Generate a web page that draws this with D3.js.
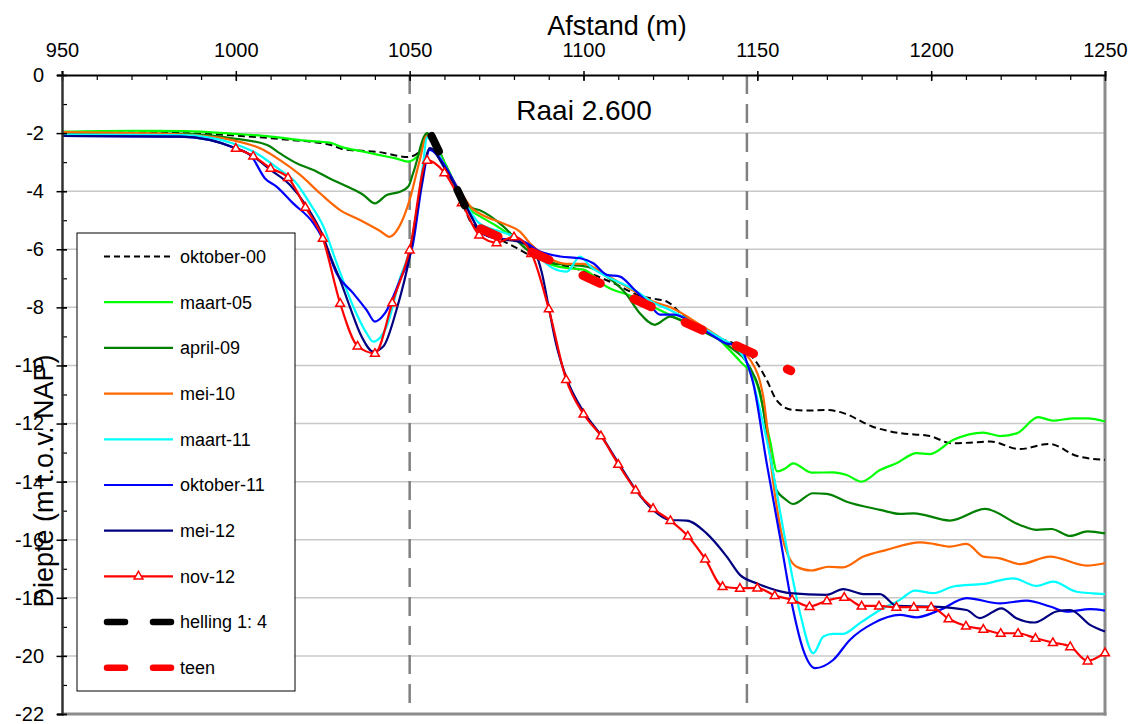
<!DOCTYPE html>
<html><head><meta charset="utf-8">
<script src="https://cdn.jsdelivr.net/npm/d3@7"></script>
<style>
body{margin:0;background:#fff;}
svg{display:block;font-family:Arial,"Liberation Sans",sans-serif;}
</style></head>
<body>
<svg id="chart" width="1137" height="724"></svg>
<script>
// ---------- data ----------
const xTicks = [950,1000,1050,1100,1150,1200,1250];
const xMinor = d3.range(950,1251,10);
const yTicks = [0,-2,-4,-6,-8,-10,-12,-14,-16,-18,-20,-22];
const yMinor = d3.range(0,-22.5,-1);
const gridValues = [-2,-4,-6,-8,-10,-12,-14,-16,-18,-20];
const refLines = [1050,1147];
const xTitle = "Afstand (m)";
const yTitle = "Diepte (m t.o.v. NAP)";
const chartTitle = "Raai 2.600";

const oktober00 = [[950,-2.0],[970,-1.98],[990,-2.02],[998,-2.07],[1014,-2.22],[1027,-2.4],[1031,-2.56],[1041,-2.65],[1049.5,-2.82],[1052,-2.72],[1055.5,-2.0],[1060,-3.0],[1065,-4.36],[1067.5,-5.05],[1070,-5.34],[1075,-5.6],[1080,-5.91],[1085,-6.23],[1091,-6.47],[1099,-6.71],[1108.5,-7.16],[1117,-7.63],[1121,-7.72],[1124,-7.8],[1128,-8.2],[1133.5,-8.66],[1139,-9.05],[1145,-9.35],[1149.8,-9.9],[1152.7,-10.5],[1155.5,-11.19],[1160,-11.53],[1165,-11.55],[1170,-11.53],[1175,-11.65],[1183,-12.1],[1191,-12.33],[1199.6,-12.43],[1206,-12.68],[1211,-12.66],[1217,-12.62],[1225.5,-12.88],[1234,-12.7],[1242,-13.12],[1250,-13.25]];
const maart05 = [[950,-1.95],[970,-1.92],[985,-1.93],[1000,-2.03],[1010,-2.12],[1020,-2.26],[1027,-2.33],[1031,-2.5],[1036,-2.62],[1041,-2.75],[1046,-2.87],[1049.5,-2.98],[1052.5,-2.75],[1055.3,-2.05],[1060,-3.0],[1065,-4.2],[1068,-4.7],[1070,-4.85],[1075,-5.2],[1080,-5.6],[1085,-6.0],[1090,-6.5],[1095,-6.64],[1100,-6.7],[1106.7,-7.29],[1114,-7.63],[1120,-7.98],[1128,-8.43],[1137,-8.89],[1142,-9.47],[1145,-9.85],[1149.8,-10.61],[1153.6,-12.56],[1155.7,-13.65],[1158,-13.55],[1160.3,-13.37],[1165.6,-13.69],[1171.8,-13.68],[1175.7,-13.77],[1180,-14.0],[1185.3,-13.6],[1190,-13.37],[1195.8,-13.02],[1199.6,-13.05],[1206.4,-12.56],[1215,-12.31],[1219.8,-12.43],[1224.6,-12.34],[1230.8,-11.78],[1235,-11.9],[1241,-11.82],[1245,-11.82],[1250,-11.93]];
const april09 = [[950,-2.0],[985,-2.03],[999,-2.18],[1009,-2.41],[1012.7,-2.7],[1017.5,-3.04],[1022.3,-3.27],[1027,-3.56],[1032,-3.84],[1036.7,-4.13],[1040,-4.42],[1043.4,-4.13],[1047.2,-4.02],[1049.6,-3.84],[1051,-3.38],[1055,-2.0],[1060,-3.1],[1065,-4.2],[1068,-4.58],[1070,-4.65],[1077,-5.22],[1082.7,-5.91],[1086.5,-6.25],[1091,-6.48],[1096,-6.54],[1101,-6.6],[1106.7,-6.94],[1112,-7.5],[1116.2,-8.2],[1120.5,-8.6],[1124.9,-8.32],[1127.7,-8.43],[1135.4,-8.89],[1142,-9.35],[1147.7,-10.04],[1150.6,-10.84],[1154.1,-13.37],[1155.5,-14.29],[1158,-14.6],[1160.3,-14.77],[1166,-14.4],[1170,-14.42],[1175.7,-14.69],[1185.3,-14.97],[1191,-15.11],[1195,-15.09],[1205.4,-15.34],[1215.5,-14.94],[1225.5,-15.49],[1230.3,-15.66],[1234.6,-15.63],[1240,-15.87],[1245,-15.71],[1250,-15.78]];
const mei10 = [[950,-1.97],[985,-2.05],[999,-2.24],[1008,-2.58],[1012.7,-2.93],[1018.5,-3.44],[1024.2,-4.07],[1030,-4.65],[1035.7,-4.99],[1041.5,-5.37],[1044.2,-5.57],[1047,-5.22],[1050,-4.3],[1052.9,-2.93],[1054.9,-2.1],[1060,-3.1],[1065,-4.1],[1068,-4.6],[1070,-4.76],[1077.9,-5.16],[1081.7,-5.39],[1084.6,-5.79],[1090,-6.3],[1095,-6.5],[1100,-6.5],[1106.7,-6.9],[1114,-7.4],[1120,-7.8],[1125,-8.0],[1133.5,-8.6],[1140,-9.1],[1145,-9.5],[1148,-9.81],[1151.7,-11.07],[1154.6,-14.06],[1157.4,-16.01],[1161.3,-16.93],[1165.6,-17.06],[1170.4,-16.93],[1174.7,-16.95],[1180.5,-16.58],[1187.2,-16.35],[1196.8,-16.09],[1201,-16.15],[1205.4,-16.24],[1210.2,-16.14],[1215,-16.58],[1219.8,-16.64],[1225.5,-16.84],[1234.2,-16.58],[1244.7,-16.89],[1250,-16.81]];
const maart11 = [[950,-2.05],[985,-2.07],[999,-2.35],[1006,-2.7],[1012.7,-3.27],[1017,-3.67],[1021.3,-4.42],[1025.2,-5.22],[1029,-6.48],[1033.8,-7.98],[1037.6,-8.89],[1039.5,-9.18],[1043.4,-8.66],[1047.2,-7.0],[1050,-6.02],[1052.5,-4.3],[1054,-2.93],[1054.9,-2.15],[1060,-3.1],[1065,-4.2],[1068,-4.8],[1070,-5.1],[1075,-5.35],[1080,-5.56],[1085,-6.0],[1091,-6.64],[1095.2,-6.77],[1099,-6.25],[1102,-6.6],[1106.7,-6.94],[1114,-7.35],[1120,-7.83],[1125,-8.1],[1133.5,-8.66],[1140,-9.1],[1144,-9.4],[1147,-9.92],[1152.7,-12.56],[1158.4,-16.24],[1162.3,-18.53],[1166.1,-19.91],[1169,-19.33],[1171.8,-19.24],[1174.7,-19.24],[1179.5,-18.87],[1185.3,-18.42],[1191,-18.07],[1195.3,-17.75],[1200.6,-17.84],[1206.4,-17.61],[1215,-17.52],[1223.6,-17.33],[1230.3,-17.59],[1235.1,-17.44],[1241.8,-17.79],[1250,-17.87]];
const oktober11 = [[950,-2.1],[984,-2.12],[1000,-2.52],[1004.5,-2.81],[1008.4,-3.56],[1011.7,-3.84],[1016.5,-4.42],[1022.3,-5.1],[1025.2,-5.68],[1029,-6.83],[1033.8,-7.52],[1037.6,-8.09],[1040,-8.49],[1042.9,-8.2],[1047.2,-7.06],[1051,-5.79],[1053.5,-3.8],[1055.8,-2.58],[1060,-3.1],[1063.5,-3.84],[1068.3,-4.99],[1070.2,-5.39],[1075,-5.62],[1081.7,-5.68],[1087.5,-6.08],[1093.3,-6.25],[1099,-6.31],[1102.8,-6.48],[1106.7,-6.88],[1110.5,-6.94],[1114.3,-7.35],[1119,-7.9],[1122,-8.25],[1126,-8.25],[1131.6,-8.55],[1138.3,-9.06],[1141,-9.24],[1145,-9.29],[1147,-9.9],[1148.8,-10.6],[1152.7,-13.37],[1156.5,-15.89],[1159.9,-18.19],[1163.2,-19.79],[1166.6,-20.42],[1171.8,-20.14],[1176.6,-19.45],[1183.3,-18.88],[1191,-18.59],[1195.8,-18.67],[1202.5,-18.42],[1210.2,-18.01],[1219.8,-18.19],[1227.4,-18.1],[1234.2,-18.3],[1239,-18.48],[1245.7,-18.39],[1250,-18.44]];
const mei12 = [[950,-2.1],[984,-2.12],[1000,-2.52],[1005,-2.8],[1010,-3.27],[1015.6,-3.79],[1020.4,-4.53],[1024.7,-5.45],[1027.6,-6.37],[1030,-7.06],[1032.8,-7.98],[1036.2,-9.01],[1039.5,-9.52],[1042.4,-9.35],[1046.2,-8.09],[1050,-6.25],[1053,-4.0],[1055.8,-2.52],[1060,-3.2],[1063.5,-3.9],[1068.3,-5.0],[1070.2,-5.39],[1075,-5.62],[1081.7,-5.75],[1086,-6.1],[1088,-6.8],[1090,-8.0],[1092,-9.2],[1095,-10.4],[1100,-11.59],[1105,-12.4],[1110,-13.35],[1115,-14.28],[1120,-14.97],[1124.9,-15.32],[1129.7,-15.34],[1135.4,-15.78],[1141.2,-16.58],[1145,-17.21],[1149.8,-17.5],[1153.6,-17.67],[1159.4,-17.84],[1169.9,-17.9],[1174.7,-17.7],[1180.5,-17.87],[1185.3,-17.87],[1190.1,-18.28],[1200.6,-18.3],[1210.2,-18.42],[1214,-18.7],[1220.2,-18.36],[1224.5,-18.7],[1229.8,-18.85],[1236,-18.47],[1240,-18.42],[1245.7,-18.93],[1250,-19.16]];
const nov12 = [[1000,-2.52],[1005,-2.79],[1010,-3.21],[1015,-3.53],[1020,-4.55],[1025,-5.62],[1030,-7.86],[1035,-9.33],[1040,-9.58],[1045,-7.84],[1050,-6.02],[1055,-2.93],[1060,-3.36],[1065,-4.4],[1070,-5.51],[1075,-5.77],[1080,-5.57],[1085,-6.14],[1090,-8.05],[1095,-10.48],[1100,-11.67],[1105,-12.42],[1110,-13.40],[1115,-14.29],[1120,-14.92],[1125,-15.34],[1130,-15.87],[1135,-16.66],[1140,-17.61],[1145,-17.67],[1150,-17.66],[1155,-17.92],[1160,-18.07],[1165,-18.30],[1170,-18.10],[1175,-17.98],[1180,-18.28],[1185,-18.28],[1190,-18.32],[1195,-18.32],[1200,-18.32],[1205,-18.72],[1210,-18.97],[1215,-19.08],[1220,-19.22],[1225,-19.22],[1230,-19.39],[1235,-19.54],[1240,-19.68],[1245,-20.17],[1250,-19.89]];
const helling = [[1056.3,-2.1],[1065.9,-4.5]];
const teen = [[1070.45,-5.29],[1159.6,-10.18]];

const seriesNames = ["oktober-00","maart-05","april-09","mei-10","maart-11","oktober-11","mei-12","nov-12","helling 1: 4","teen"];
const seriesData = [oktober00,maart05,april09,mei10,maart11,oktober11,mei12,nov12,helling,teen];
const seriesColors = ["#000000","#00ff00","#008000","#ff6600","#00ffff","#0000ff","#000080","#ff0000","#000000","#ff0000"];

// ---------- chart ----------
const svg = d3.select("#chart");
const L = 62, R = 1105, T = 75, B = 714;
const x = d3.scaleLinear().domain([950,1250]).range([L,R]);
const y = d3.scaleLinear().domain([0,-22]).range([T,B]);

// gridlines
svg.append("g").selectAll("line").data(gridValues).join("line")
  .attr("x1",L).attr("x2",R).attr("y1",d=>y(d)).attr("y2",d=>y(d))
  .attr("stroke","#c8c8c8").attr("stroke-width",1.5);

// vertical reference lines
svg.append("g").selectAll("line").data(refLines).join("line")
  .attr("x1",d=>x(d)).attr("x2",d=>x(d)).attr("y1",T).attr("y2",B)
  .attr("stroke","#808080").attr("stroke-width",2.5).attr("stroke-dasharray","19,10");

// right & bottom border
svg.append("line").attr("x1",R).attr("x2",R).attr("y1",T).attr("y2",B+1.5)
  .attr("stroke","#8c8c8c").attr("stroke-width",3);
svg.append("line").attr("x1",L).attr("x2",R+1.5).attr("y1",B).attr("y2",B)
  .attr("stroke","#8c8c8c").attr("stroke-width",3);

// series lines
const lineSmooth = d3.line().x(d=>x(d[0])).y(d=>y(d[1])).curve(d3.curveMonotoneX);
const lineStraight = d3.line().x(d=>x(d[0])).y(d=>y(d[1]));
const plot = svg.append("g");
for (let i=0;i<8;i++){
  const p = plot.append("path").datum(seriesData[i])
    .attr("d", lineSmooth).attr("fill","none")
    .attr("stroke",seriesColors[i]).attr("stroke-width",2.2)
    .attr("stroke-linejoin","round");
  if (i===0) p.attr("stroke-dasharray","7,4").attr("stroke-width",2);
}
// nov-12 markers
const tri = d3.symbol().type(d3.symbolTriangle).size(34);
plot.append("g").selectAll("path").data(nov12).join("path")
  .attr("d",tri).attr("transform",d=>`translate(${x(d[0])},${y(d[1])+0.5})`)
  .attr("fill","#fff").attr("stroke","#ff0000").attr("stroke-width",1.5);
// helling
plot.append("path").datum(helling).attr("d",lineStraight)
  .attr("stroke","#000").attr("stroke-width",8).attr("stroke-linecap","round")
  .attr("stroke-dasharray","17,43").attr("fill","none");
// teen
plot.append("path").datum(teen).attr("d",lineStraight)
  .attr("stroke","#ff0000").attr("stroke-width",9).attr("stroke-linecap","round")
  .attr("stroke-dasharray","19,37.2").attr("fill","none");

// axes
const xAxisMinor = d3.axisTop(x).tickValues(xMinor).tickSize(-5).tickFormat("");
const gxm = svg.append("g").attr("transform",`translate(0,${T})`).call(xAxisMinor);
gxm.select(".domain").remove();
gxm.selectAll("line").attr("stroke","#000").attr("stroke-width",1.2);

const xAxis = d3.axisTop(x).tickValues(xTicks).tickSize(4).tickPadding(14).tickFormat(d=>String(d));
const gx = svg.append("g").attr("transform",`translate(0,${T})`).call(xAxis);
gx.select(".domain").attr("stroke","#000").attr("stroke-width",2);
gx.selectAll(".tick line").attr("y1",6).attr("y2",-4).attr("stroke","#000").attr("stroke-width",1.5);
gx.selectAll(".tick text").attr("font-size",20).attr("fill","#000").attr("font-family","Arial, 'Liberation Sans', sans-serif");

const yAxisMinor = d3.axisLeft(y).tickValues(yMinor).tickSize(-5).tickFormat("");
const gym = svg.append("g").attr("transform",`translate(${L},0)`).call(yAxisMinor);
gym.select(".domain").remove();
gym.selectAll("line").attr("stroke","#000").attr("stroke-width",1.2);

const yAxis = d3.axisLeft(y).tickValues(yTicks).tickSize(5).tickPadding(13).tickFormat(d=>String(d));
const gy = svg.append("g").attr("transform",`translate(${L},0)`).call(yAxis);
gy.select(".domain").attr("stroke","#333").attr("stroke-width",2.5);
gy.selectAll(".tick line").attr("x1",5).attr("x2",-5.5).attr("stroke","#000").attr("stroke-width",1.5);
gy.selectAll(".tick text").attr("font-size",20).attr("fill","#000").attr("font-family","Arial, 'Liberation Sans', sans-serif");

// titles
svg.append("text").attr("x",617).attr("y",35).attr("text-anchor","middle")
  .attr("font-size",27).text(xTitle);
svg.append("text").attr("x",584).attr("y",120).attr("text-anchor","middle")
  .attr("font-size",28).text(chartTitle);
svg.append("text").attr("transform","translate(53,481) rotate(-90)").attr("text-anchor","middle")
  .attr("font-size",27).text(yTitle);

// legend
const lg = svg.append("g");
lg.append("rect").attr("x",77).attr("y",233).attr("width",218).attr("height",458)
  .attr("fill","#fff").attr("stroke","#000").attr("stroke-width",1);
const rowY = i => 256.5 + i*45.7;
seriesNames.forEach((name,i)=>{
  const ry = rowY(i);
  const g = lg.append("g");
  if (i<8){
    const l = g.append("line").attr("x1",104).attr("x2",173).attr("y1",ry).attr("y2",ry)
      .attr("stroke",seriesColors[i]).attr("stroke-width",2.2);
    if (i===0) l.attr("stroke-dasharray","6,4").attr("stroke-width",2);
    if (i===7) g.append("path").attr("d",tri).attr("transform",`translate(138.5,${ry})`)
      .attr("fill","#fff").attr("stroke","#ff0000").attr("stroke-width",1.5);
  } else {
    g.append("line").attr("x1",107).attr("x2",173).attr("y1",ry).attr("y2",ry)
      .attr("stroke",seriesColors[i]).attr("stroke-width",6.5).attr("stroke-linecap","round")
      .attr("stroke-dasharray","18,28");
  }
  g.append("text").attr("x",180).attr("y",ry).attr("dy","0.35em")
    .attr("font-size",18).attr("fill","#000").text(name);
});
</script>
</body></html>
